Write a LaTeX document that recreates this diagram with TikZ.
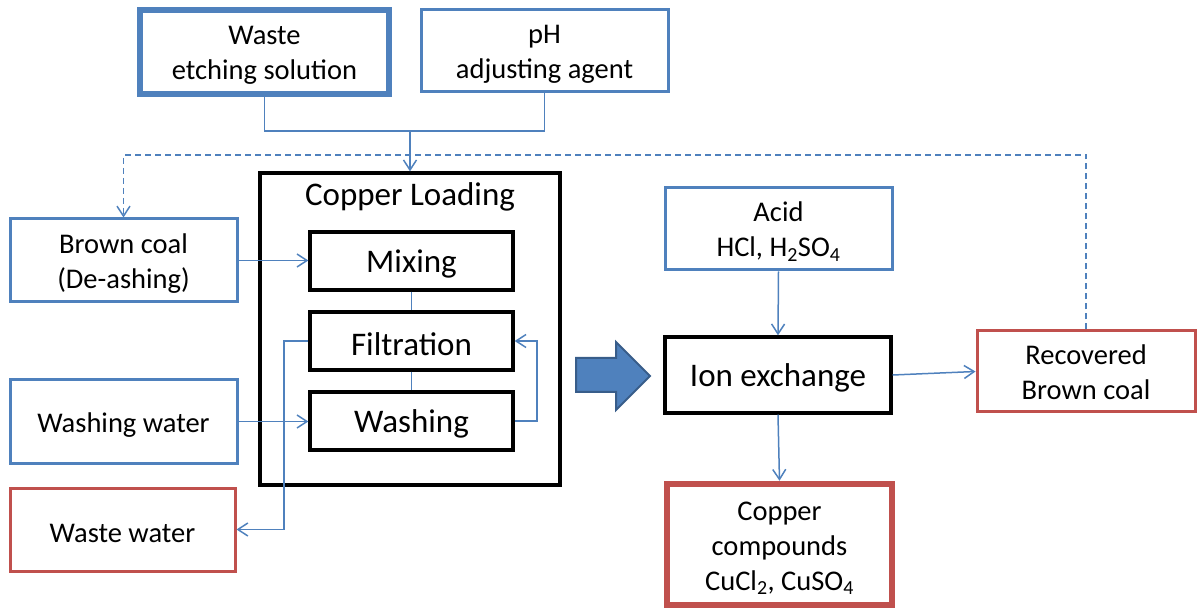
\documentclass[tikz,border=0pt]{standalone}
\usepackage{fontspec}
\setmainfont{Carlito}
\usetikzlibrary{arrows.meta}
\definecolor{cblue}{HTML}{4F81BD}
\definecolor{cred}{HTML}{C0504D}
\definecolor{cdblue}{HTML}{385D8A}
\newcommand\lowlines[1]{\raisebox{-3.5pt}[\height][\depth]{\begin{tabular}{@{}c@{}}#1\end{tabular}}}
\begin{document}
\begin{tikzpicture}[x=1pt,y=-1pt,
  box/.style={draw,rectangle,inner sep=0pt,align=center,font=\fontsize{28.5}{35}\selectfont},
  one/.style={execute at begin node={\rule{0pt}{26pt}}},
  bluebox/.style={box,draw=cblue,line width=3pt},
  bluethick/.style={box,draw=cblue,line width=5.5pt},
  redbox/.style={box,draw=cred,line width=3pt},
  redthick/.style={box,draw=cred,line width=6.5pt},
  blackbox/.style={box,draw=black,line width=3.3pt,font=\fontsize{33}{38}\selectfont,
    execute at begin node={\rule{0pt}{29pt}}},
  conn/.style={draw=cblue,line width=1.5pt},
  arr/.style={conn,-{Straight Barb[length=10pt,width=13pt,line width=1.5pt]}},
  dashconn/.style={arr,dashed,dash pattern=on 6pt off 4pt}
]
\useasboundingbox (0,0) rectangle (1197,609);
% top inputs
\node[bluethick,minimum width=249pt,minimum height=84pt] (waste) at (264.5,52) {\lowlines{Waste\\etching solution}};
\node[bluebox,minimum width=247pt,minimum height=82pt] (ph) at (544.5,51) {\lowlines{pH\\adjusting agent}};
% copper loading
\node[draw=black,line width=3.3pt,rectangle,minimum width=300pt,minimum height=312pt,inner sep=0pt] (cl) at (410,329) {};
\node[font=\fontsize{33}{38}\selectfont,inner sep=0pt,anchor=center] (cltitle) at (410,194) {\rule{0pt}{29pt}Copper Loading};
\node[blackbox,minimum width=203pt,minimum height=58pt] (mix) at (411.5,261) {Mixing};
\node[blackbox,minimum width=203pt,minimum height=58pt] (fil) at (411.5,341) {Filtration};
\node[blackbox,minimum width=203pt,minimum height=58pt] (wash) at (411.5,421) {Washing};
% left inputs
\node[bluebox,minimum width=227pt,minimum height=83pt] (bc) at (123.5,260.5) {\lowlines{Brown coal\\(De-ashing)}};
\node[bluebox,one,minimum width=227pt,minimum height=83pt] (ww) at (123.5,421.5) {Washing water};
\node[redbox,one,minimum width=225pt,minimum height=83pt] (wwt) at (122.5,529.5) {Waste water};
% right part
\node[bluebox,minimum width=227pt,minimum height=82pt] (acid) at (778.5,229) {\lowlines{Acid\\HCl, H\textsubscript{2}SO\textsubscript{4}}};
\node[blackbox,minimum width=226pt,minimum height=76pt] (ion) at (778,375) {Ion exchange};
\node[redbox,minimum width=218pt,minimum height=81pt] (rec) at (1086,371.5) {\lowlines{Recovered\\Brown coal}};
\node[redthick,minimum width=225pt,minimum height=121pt] (cu) at (779.5,544.5) {\lowlines{Copper\\compounds\\CuCl\textsubscript{2}, CuSO\textsubscript{4}}};
% block arrow
\draw[fill=cblue,draw=cdblue,line width=2pt] (576,358) -- (616,358) -- (616,342) -- (650,376) -- (616,410) -- (616,392) -- (576,392) -- cycle;
% connectors
\coordinate (j) at (410,131);
\path[conn] (waste.south) |- (j) -| (ph.south);
\path[arr] (j) -- (cl.north);
\coordinate (dr) at (1086,155);
\coordinate (dl) at (123.5,155);
\path[dashconn] (rec.north) -- (dr) -- (dl) -- (bc.north);
\path[arr] (bc.east) -- (bc.east -| mix.west);
\path[arr] (ww.east) -- (ww.east -| wash.west);
\path[conn] (mix.south) -- (fil.north);
\path[conn] (fil.south) -- (wash.north);
\coordinate (fl) at (284,341);
\coordinate (fb) at (284,529.5);
\path[arr] (fil.west) -- (fl) -- (fb) -- (wwt.east);
\coordinate (wr) at (537,421);
\coordinate (fr) at (537,341);
\path[arr] (wash.east) -- (wr) -- (fr) -- (fil.east);
\path[arr] (acid.south) -- (ion.north);
\path[arr] (ion.east) -- (rec.west);
\path[arr] (ion.south) -- (cu.north);
\end{tikzpicture}
\end{document}
